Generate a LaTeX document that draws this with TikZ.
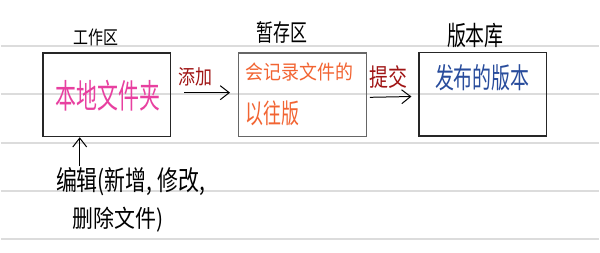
\documentclass[tikz,border=0pt]{standalone}
\usepackage{fontspec}
\setmainfont{Noto Sans CJK SC}
\usetikzlibrary{arrows.meta}
\definecolor{rule}{RGB}{220,220,220}
\definecolor{inkpink}{RGB}{232,64,160}
\definecolor{inkorange}{RGB}{242,100,50}
\definecolor{inkblue}{RGB}{40,76,156}
\definecolor{inkred}{RGB}{160,20,20}
\newcommand{\fs}[1]{\fontsize{#1pt}{#1pt}\selectfont}
% handwriting is taller than it is wide: stretch glyphs vertically
\newcommand{\tall}[2]{\scalebox{1}[#1]{#2}}

\begin{document}
\begin{tikzpicture}[x=1pt,y=-1pt,
  ruleline/.style={draw=rule,line width=2pt},
  area/.style={draw=black!85,line width=1.4pt,minimum width=128pt,minimum height=84pt,inner sep=0pt},
  title/.style={inner sep=0pt,text=black},
  content/.style={inner sep=0pt},
  flow/.style={draw=black,line width=1pt,-{Straight Barb[length=9pt,width=14pt]}},
  label/.style={inner sep=0pt,text=inkred}]

% page and ruled paper
\fill[white] (0,0) rectangle (600,253);
\foreach \y in {45.7,94.7,143,191.3,239.3}
  \draw[ruleline] (0,\y) -- (600,\y);

% the three areas
\node[area] (b1) at (106,95) {};
\node[area,draw=black!60] (b2) at (302.5,95) {};
\node[area] (b3) at (483.5,94.5) {};

% area titles
\node[title,font=\fs{15}] (t1) at (95.5,37.5) {\tall{1.25}{工作区}};
\node[title,font=\fs{17}] (t2) at (282,32.5) {\tall{1.4}{暂存区}};
\node[title,font=\fs{19}] (t3) at (476,36) {\tall{1.4}{版本库}};

% area contents
\node[content,text=inkpink,font=\fs{21}] (c1) at (107,96) {\tall{1.6}{本地文件夹}};
\node[content,text=inkorange,font=\fs{18},anchor=west] (c2a) at (245,72) {\tall{1.1}{会记录文件的}};
\node[content,text=inkorange,font=\fs{18},anchor=west] (c2b) at (245,114) {\tall{1.5}{以往版}};
\node[content,text=inkblue,font=\fs{19}] (c3) at (483,77.5) {\tall{1.5}{发布的版本}};

% transitions
\node[label,font=\fs{17}] (l1) at (195.5,77.5) {\tall{1.2}{添加}};
\node[label,font=\fs{19}] (l2) at (389,77.5) {\tall{1.3}{提交}};
\draw[flow,shorten <=13pt,shorten >=8pt] ([yshift=2pt]b1.east) -- ([yshift=2pt]b2.west);
\draw[flow,shorten <=3pt,shorten >=7pt] ([yshift=-2.7pt]b2.east) -- ([yshift=-2.2pt]b3.west);

% editing note below the working area
\node[content,font=\fs{21},anchor=west] (e1) at (55,182) {\tall{1.3}{编辑(新增, 修改,}};
\node[content,font=\fs{21},anchor=west] (e2) at (72,220.5) {\tall{1.15}{删除文件)}};
\coordinate (editTop) at (79,167);
\draw[flow] (editTop) -- (editTop |- b1.south);
\end{tikzpicture}
\end{document}
